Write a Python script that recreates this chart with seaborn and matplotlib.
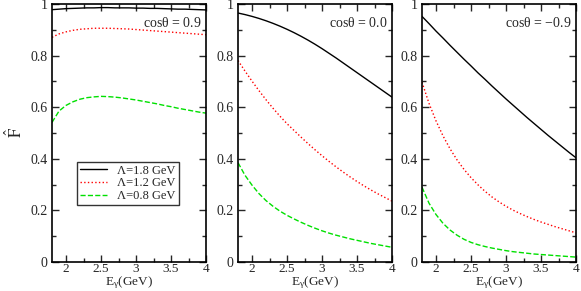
import numpy as np
import pandas as pd
import matplotlib
matplotlib.use("Agg")
import matplotlib.pyplot as plt
import seaborn as sns
from matplotlib.ticker import MultipleLocator

# photon energy grid (GeV)
E = [1.8, 1.9, 2.0, 2.1, 2.2, 2.3, 2.4, 2.5, 2.6, 2.7, 2.8, 2.9,
     3.0, 3.1, 3.2, 3.3, 3.4, 3.5, 3.6, 3.7, 3.8, 3.9, 4.0]

# cos(theta) = 0.9
f09_18 = [0.978, 0.980, 0.982, 0.983, 0.984, 0.985, 0.985, 0.986, 0.986, 0.985, 0.985, 0.985,
          0.984, 0.984, 0.983, 0.983, 0.982, 0.981, 0.980, 0.980, 0.979, 0.978, 0.977]
f09_12 = [0.871, 0.884, 0.892, 0.898, 0.902, 0.904, 0.906, 0.906, 0.906, 0.905, 0.904, 0.903,
          0.901, 0.899, 0.897, 0.895, 0.893, 0.891, 0.889, 0.887, 0.885, 0.883, 0.881]
f09_08 = [0.541, 0.585, 0.607, 0.621, 0.631, 0.637, 0.640, 0.642, 0.641, 0.639, 0.636, 0.632,
          0.628, 0.623, 0.618, 0.613, 0.607, 0.602, 0.596, 0.591, 0.586, 0.581, 0.577]

# cos(theta) = 0.0
f00_18 = [0.965, 0.959, 0.952, 0.944, 0.935, 0.925, 0.914, 0.902, 0.889, 0.875, 0.860, 0.844,
          0.827, 0.809, 0.791, 0.772, 0.753, 0.734, 0.715, 0.696, 0.677, 0.658, 0.639]
f00_12 = [0.781, 0.740, 0.701, 0.664, 0.629, 0.596, 0.565, 0.536, 0.510, 0.484, 0.459, 0.435,
          0.412, 0.390, 0.369, 0.349, 0.330, 0.312, 0.295, 0.279, 0.264, 0.250, 0.236]
f00_08 = [0.385, 0.336, 0.298, 0.265, 0.238, 0.216, 0.197, 0.181, 0.167, 0.154, 0.142, 0.131,
          0.121, 0.112, 0.104, 0.097, 0.090, 0.084, 0.078, 0.072, 0.067, 0.062, 0.057]

# cos(theta) = -0.9
fm09_18 = [0.952, 0.924, 0.895, 0.868, 0.840, 0.813, 0.786, 0.760, 0.733, 0.708, 0.682, 0.657,
           0.632, 0.608, 0.584, 0.560, 0.537, 0.514, 0.491, 0.469, 0.447, 0.425, 0.404]
fm09_12 = [0.697, 0.615, 0.547, 0.489, 0.439, 0.396, 0.359, 0.327, 0.299, 0.274, 0.252, 0.233,
           0.216, 0.201, 0.188, 0.176, 0.165, 0.155, 0.146, 0.137, 0.129, 0.121, 0.113]
fm09_08 = [0.290, 0.228, 0.184, 0.150, 0.124, 0.104, 0.088, 0.076, 0.067, 0.060, 0.054, 0.049,
           0.044, 0.040, 0.037, 0.034, 0.031, 0.029, 0.027, 0.025, 0.023, 0.021, 0.019]

panels = ["0.9", "0.0", "\u22120.9"]
labels = ["\u039b=1.8 GeV", "\u039b=1.2 GeV", "\u039b=0.8 GeV"]
series = [[f09_18, f09_12, f09_08],
          [f00_18, f00_12, f00_08],
          [fm09_18, fm09_12, fm09_08]]

#-----------------------------------------
# estilo
#-----------------------------------------
sns.set_style("ticks")
plt.rcParams['font.family'] = ['Liberation Serif', 'DejaVu Serif']
plt.rcParams['mathtext.fontset'] = 'custom'
plt.rcParams['mathtext.rm'] = 'Liberation Serif'
plt.rcParams['mathtext.it'] = 'Liberation Serif:italic'
plt.rcParams['mathtext.default'] = 'rm'

colors = ["black", "red", "#00e000"]
styles = ["-", ":", "--"]

fig = plt.figure(figsize=(5.81, 2.91), dpi=100)
lefts = [52 / 581, 238 / 581, 422 / 581]
w = 154 / 581
b = (291 - 262.0) / 291
h = 258.0 / 291

for i, name in enumerate(panels):
    ax = fig.add_axes([lefts[i], b, w, h])
    for j in range(3):
        df = pd.DataFrame({"E": E, "F": series[i][j]})
        sns.lineplot(data=df, x="E", y="F", ax=ax, color=colors[j],
                     linestyle=styles[j], linewidth=1.0, label=labels[j],
                     legend=False)
    ax.set_xlim(1.8, 4)
    ax.set_ylim(0, 1)
    ax.xaxis.set_minor_locator(MultipleLocator(0.25))
    ax.yaxis.set_minor_locator(MultipleLocator(0.1))
    ax.set_xticks([2, 2.5, 3, 3.5, 4])
    ax.set_xticklabels(["2", "2.5", "3", "3.5", "4"])
    ax.set_yticks([0, 0.2, 0.4, 0.6, 0.8, 1])
    ax.set_yticklabels(["0", "0.2", "0.4", "0.6", "0.8", "1"])
    ax.tick_params(which="both", direction="in", top=True, right=True,
                   labelsize=10, width=1.0)
    ax.tick_params(axis="x", pad=0.5, labelsize=9.5)
    ax.tick_params(axis="y", pad=3)
    ax.tick_params(which="major", length=5)
    ax.tick_params(which="minor", length=3)
    for s in ax.spines.values():
        s.set_linewidth(1.2)
        s.set_color("black")
    ax.set_xlabel(r"E$_\gamma$(GeV)", fontsize=9.5, labelpad=-0.5)
    ax.set_ylabel("")
    ax.text(0.97, 0.955, r"cos$\theta$ = " + name, transform=ax.transAxes,
            ha="right", va="top", fontsize=10)
    if i == 0:
        ax.set_ylabel(r"$\hat{F}$", fontsize=12, labelpad=3,
                      math_fontfamily="stix")
        leg = ax.legend(loc="lower left", bbox_to_anchor=(0.16, 0.22),
                        fontsize=9, frameon=True, fancybox=False,
                        handlelength=2.2, borderpad=0.25, labelspacing=0.05,
                        handletextpad=0.8, borderaxespad=0)
        leg.get_frame().set_edgecolor("black")
        leg.get_frame().set_linewidth(1.0)

plt.savefig("out.png", dpi=100)
